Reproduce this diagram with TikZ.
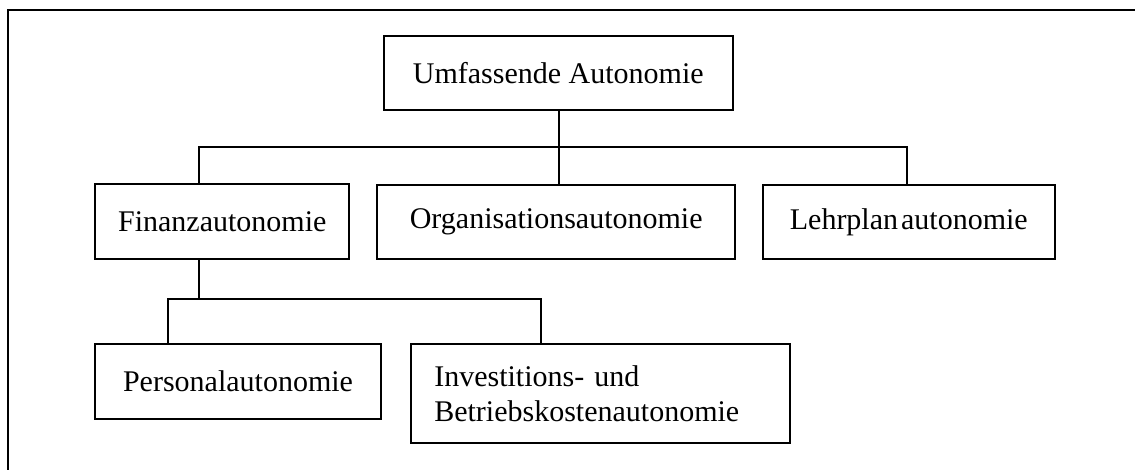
\documentclass[tikz,border=0pt]{standalone}
\usepackage{fontspec}
\setmainfont{Liberation Serif}
\begin{document}
\begin{tikzpicture}[x=1pt,y=-1pt,
  box/.style={draw,line width=1.8pt,inner sep=0pt,align=center,
    font=\fontsize{30}{34.5}\selectfont},
  conn/.style={line width=1.8pt},
  frameline/.style={line width=2.2pt}]
\useasboundingbox (0,0) rectangle (1135,469);
\coordinate (fTL) at (8,10);
\coordinate (fTR) at (1136,10);
\coordinate (fBL) at (8,470);
\draw[frameline] (fTR) -- (fTL) -- (fBL);

\node[box,minimum width=348.7pt,minimum height=74.3pt] (top) at (558.3,73.2) {Umfassende Autonomie};
\node[box,minimum width=254pt,minimum height=75.3pt] (fin) at (222.3,221.7) {Finanzautonomie};
\node[box,minimum width=357.7pt,minimum height=74pt] (org) at (556.2,222) {Organisationsautonomie};
\node[box,minimum width=292.3pt,minimum height=74.3pt] (lehr) at (908.8,221.8) {Lehrplan\kern3pt autonomie};
\node[box,minimum width=285.4pt,minimum height=74.4pt] (pers) at (238,381.5) {Personalautonomie};
\node[box,align=left,text width=332pt,inner xsep=23.6pt,minimum height=98.4pt] (inv) at (600.3,393.5) {Investitions- und\\Betriebskostenautonomie};

\coordinate (b1L) at (199.3,146.7);
\coordinate (b1M) at (558.7,146.7);
\coordinate (b1R) at (906.7,146.7);
\draw[conn] (top.south -| b1M) -- (b1M);
\draw[conn] (fin.north -| b1L) -- (b1L) -- (b1R) -- (lehr.north -| b1R);
\draw[conn] (b1M) -- (org.north -| b1M);

\coordinate (b2T) at (199.3,299.3);
\coordinate (b2L) at (168.3,299.3);
\coordinate (b2R) at (541.3,299.3);
\draw[conn] (fin.south -| b2T) -- (b2T);
\draw[conn] (pers.north -| b2L) -- (b2L) -- (b2R) -- (inv.north -| b2R);
\end{tikzpicture}
\end{document}
